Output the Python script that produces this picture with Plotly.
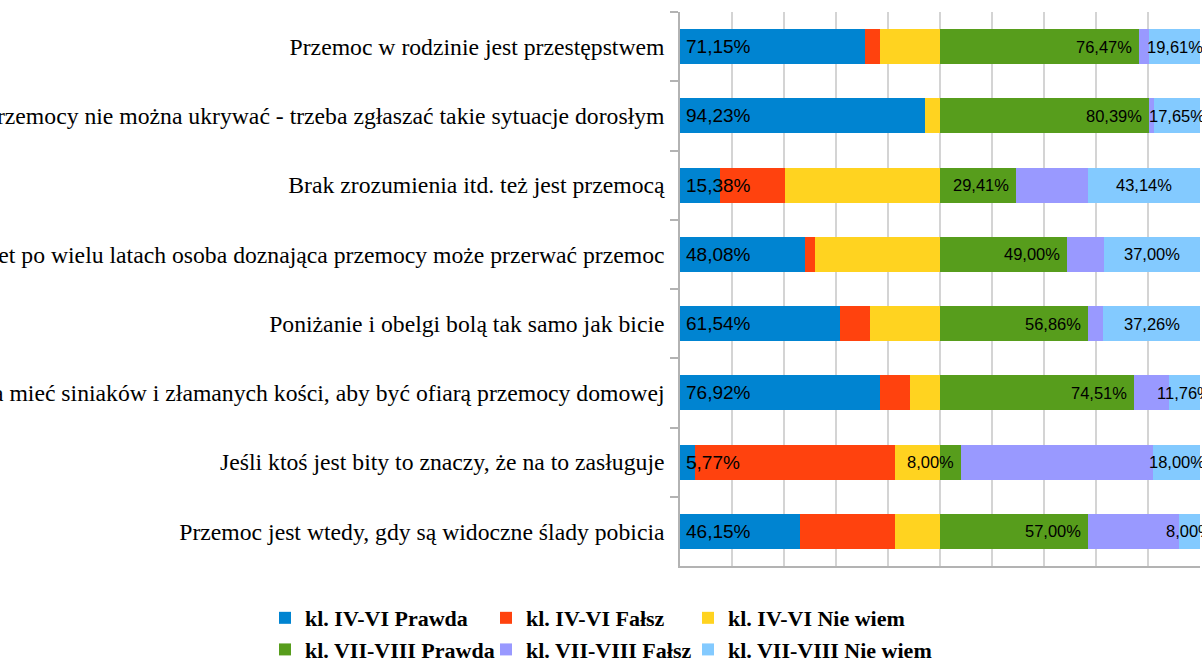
import plotly.graph_objects as go

categories = [
    "Przemoc w rodzinie jest przestępstwem",
    "Przemocy nie można ukrywać - trzeba zgłaszać takie sytuacje dorosłym",
    "Brak zrozumienia itd. też jest przemocą",
    "Nawet po wielu latach osoba doznająca przemocy może przerwać przemoc",
    "Poniżanie i obelgi bolą tak samo jak bicie",
    "Nie trzeba mieć siniaków i złamanych kości, aby być ofiarą przemocy domowej",
    "Jeśli ktoś jest bity to znaczy, że na to zasługuje",
    "Przemoc jest wtedy, gdy są widoczne ślady pobicia",
]
series_names = [
    "kl. IV-VI Prawda", "kl. IV-VI Fałsz", "kl. IV-VI Nie wiem",
    "kl. VII-VIII Prawda", "kl. VII-VIII Fałsz", "kl. VII-VIII Nie wiem",
]
iv_prawda = [71.15, 94.23, 15.38, 48.08, 61.54, 76.92, 5.77, 46.15]
iv_falsz = [5.77, 0.00, 25.00, 3.85, 11.54, 11.54, 76.92, 36.54]
iv_niewiem = [23.08, 5.77, 59.62, 48.08, 26.92, 11.54, 17.31, 17.31]
vii_prawda = [76.47, 80.39, 29.41, 49.00, 56.86, 74.51, 8.00, 57.00]
vii_falsz = [3.92, 1.96, 27.45, 14.00, 5.88, 13.73, 74.00, 35.00]
vii_niewiem = [19.61, 17.65, 43.14, 37.00, 37.26, 11.76, 18.00, 8.00]

colors = ["#0084d1", "#ff420e", "#ffd320", "#579d1c", "#9999ff", "#83caff"]
series = [iv_prawda, iv_falsz, iv_niewiem, vii_prawda, vii_falsz, vii_niewiem]
legends = ["legend", "legend2", "legend3", "legend", "legend2", "legend3"]


def fmt(v):
    return f"{v:.2f}".replace(".", ",") + "%"


fig = go.Figure()
for name, vals, col, lg in zip(series_names, series, colors, legends):
    fig.add_trace(go.Bar(
        y=categories, x=vals, name=name, orientation="h",
        marker=dict(color=col, line=dict(width=0)),
        legend=lg, legendgroup=name, hoverinfo="x+name",
    ))

label_font_big = dict(family="Liberation Sans, Arial, sans-serif", size=19, color="#000")
label_font = dict(family="Liberation Sans, Arial, sans-serif", size=16.5, color="#000")
annotations = []
# blue labels at the start of the bar
for cat, v in zip(categories, iv_prawda):
    annotations.append(dict(x=0, y=cat, xref="x", yref="y", text=fmt(v), showarrow=False,
                            xanchor="left", xshift=4, font=label_font_big))
# green labels at the end of the green segment
for cat, v in zip(categories, vii_prawda):
    annotations.append(dict(x=100 + v, y=cat, xref="x", yref="y", text=fmt(v), showarrow=False,
                            xanchor="right", xshift=-5, font=label_font))
# light-blue labels centred in their segment
for cat, v in zip(categories, vii_niewiem):
    annotations.append(dict(x=200 - v / 2, y=cat, xref="x", yref="y", text=fmt(v), showarrow=False,
                            xanchor="center", font=label_font))

legend_font = dict(family="Liberation Serif, Times New Roman, serif", size=22, color="#000",
                   weight="bold")
PLOT_L, PLOT_W = 680, 520
common_legend = dict(orientation="v", yanchor="top", xanchor="left", y=-0.056,
                     traceorder="normal", font=legend_font, bgcolor="rgba(0,0,0,0)",
                     borderwidth=0, tracegroupgap=1)

fig.update_layout(
    width=1202, height=660,
    barmode="stack", bargap=0.495,
    plot_bgcolor="#ffffff", paper_bgcolor="#ffffff",
    margin=dict(l=680, r=2, t=12, b=94, pad=0, autoexpand=False),
    font=dict(family="Liberation Serif, Times New Roman, serif", size=23.7, color="#000"),
    legend=dict(common_legend, x=(265 - PLOT_L) / PLOT_W),
    legend2=dict(common_legend, x=(486 - PLOT_L) / PLOT_W),
    legend3=dict(common_legend, x=(688 - PLOT_L) / PLOT_W),
    showlegend=True,
    annotations=annotations,
)
fig.update_xaxes(
    range=[0, 200], tick0=0, dtick=20, showgrid=True, gridcolor="#d4d4d4", gridwidth=1.5,
    showticklabels=False, ticks="", showline=True, linecolor="#b3b3b3", linewidth=1.5,
    zeroline=False, fixedrange=True,
)
fig.update_yaxes(
    type="category", categoryorder="array", categoryarray=categories,
    autorange="reversed", ticks="outside", tickson="boundaries", ticklen=8,
    tickcolor="#b3b3b3", tickwidth=1.5, showline=True, linecolor="#b3b3b3", linewidth=1.5,
    showgrid=False, automargin=False, ticklabelstandoff=9,
    tickfont=dict(family="Liberation Serif, Times New Roman, serif", size=23.7, color="#000"),
)

fig.write_html("out.html", config={"displayModeBar": False},
               post_script="document.body.style.margin='0';")
